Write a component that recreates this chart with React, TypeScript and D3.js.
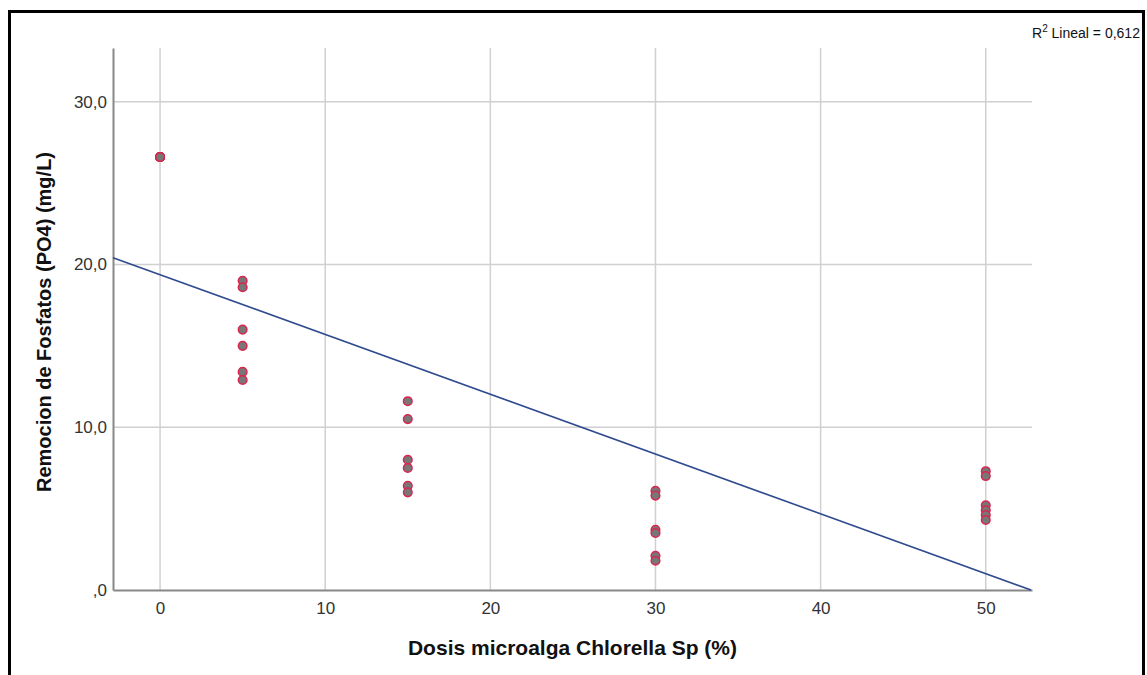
import React, { useEffect, useRef } from "react";
import * as d3 from "d3";

// dosis (%) and phosphate removal (mg/L)
const dosis = [0, 0, 0, 0, 0, 0, 5, 5, 5, 5, 5, 5, 15, 15, 15, 15, 15, 15, 30, 30, 30, 30, 30, 30, 50, 50, 50, 50, 50, 50];
const remocion = [
  26.6, 26.6, 26.6, 26.6, 26.6, 26.6,
  19.0, 18.6, 16.0, 15.0, 13.4, 12.9,
  11.6, 10.5, 8.0, 7.5, 6.4, 6.0,
  6.1, 5.8, 3.7, 3.5, 2.1, 1.8,
  7.3, 7.0, 5.2, 4.9, 4.6, 4.3,
];
const xTicks = [0, 10, 20, 30, 40, 50];
const yTicks = [0, 10, 20, 30];
const r2Lineal = 0.612;

const App = () => {
  const ref = useRef<SVGSVGElement>(null);
  const width = 1147;
  const height = 675;

  useEffect(() => {
    document.body.style.margin = "0";
    const svg = d3.select(ref.current);
    svg.selectAll("*").remove();

    const margin = { top: 48, right: 115, bottom: 85, left: 113 };
    const font = "'Liberation Sans', Arial, sans-serif";

    const x = d3.scaleLinear().domain([-2.85, 52.8]).range([margin.left, width - margin.right]);
    const y = d3.scaleLinear().domain([0, 33.3]).range([height - margin.bottom, margin.top]);

    // outer frame
    svg.append("rect")
      .attr("x", 9.5).attr("y", 11.5)
      .attr("width", 1134).attr("height", 700)
      .attr("fill", "none").attr("stroke", "#000").attr("stroke-width", 3);

    // grid
    svg.append("g")
      .selectAll("line")
      .data(xTicks)
      .join("line")
      .attr("x1", (d) => x(d)).attr("x2", (d) => x(d))
      .attr("y1", y(33.3)).attr("y2", y(0))
      .attr("stroke", "#d0d0d0").attr("stroke-width", 1.5);

    svg.append("g")
      .selectAll("line")
      .data(yTicks.filter((d) => d > 0))
      .join("line")
      .attr("x1", x(-2.85)).attr("x2", x(52.8))
      .attr("y1", (d) => y(d)).attr("y2", (d) => y(d))
      .attr("stroke", "#d0d0d0").attr("stroke-width", 1.5);

    // axes
    const fmt = (v: number) => (v === 0 ? ",0" : v.toFixed(1).replace(".", ","));
    const yAxis = svg.append("g")
      .attr("transform", `translate(${margin.left},0)`)
      .call(d3.axisLeft(y).tickValues(yTicks).tickSize(0).tickPadding(6).tickFormat((d) => fmt(+d)));
    yAxis.select(".domain").attr("stroke", "#888").attr("stroke-width", 2);
    yAxis.selectAll("text").style("font-family", font).style("font-size", "17px").attr("fill", "#333");

    const xAxis = svg.append("g")
      .attr("transform", `translate(0,${height - margin.bottom})`)
      .call(d3.axisBottom(x).tickValues(xTicks).tickSize(0).tickPadding(12).tickFormat((d) => `${d}`));
    xAxis.select(".domain").attr("stroke", "#888").attr("stroke-width", 2);
    xAxis.selectAll("text").style("font-family", font).style("font-size", "17px").attr("fill", "#333");

    // fit line (least squares)
    const mx = d3.mean(dosis)!;
    const my = d3.mean(remocion)!;
    const sxy = d3.sum(dosis, (d, i) => (d - mx) * (remocion[i] - my));
    const sxx = d3.sum(dosis, (d) => (d - mx) * (d - mx));
    const slope = sxy / sxx;
    const intercept = my - slope * mx;
    const x0 = -2.85;
    const x1 = Math.min(52.8, -intercept / slope);

    svg.append("line")
      .attr("x1", x(x0)).attr("y1", y(intercept + slope * x0))
      .attr("x2", x(x1)).attr("y2", y(intercept + slope * x1))
      .attr("stroke", "#2f4a8e").attr("stroke-width", 1.6);

    // points
    svg.append("g")
      .selectAll("circle")
      .data(dosis)
      .join("circle")
      .attr("cx", (d) => x(d))
      .attr("cy", (d, i) => y(remocion[i]))
      .attr("r", 4.3)
      .attr("fill", "#777")
      .attr("stroke", "#d8264f")
      .attr("stroke-width", 1.5);

    // titles
    svg.append("text")
      .attr("x", (margin.left + width - margin.right) / 2)
      .attr("y", 655)
      .attr("text-anchor", "middle")
      .style("font-family", font).style("font-size", "21px").style("font-weight", "bold")
      .attr("fill", "#111")
      .text("Dosis microalga Chlorella Sp (%)");

    svg.append("text")
      .attr("transform", `translate(51,${(margin.top + height - margin.bottom) / 2 + 3}) rotate(-90)`)
      .attr("text-anchor", "middle")
      .style("font-family", font).style("font-size", "20px").style("font-weight", "bold")
      .attr("fill", "#111")
      .text("Remocion de Fosfatos (PO4) (mg/L)");

    const r2 = svg.append("text")
      .attr("x", 1032).attr("y", 38)
      .style("font-family", font).style("font-size", "14px")
      .attr("fill", "#111");
    r2.append("tspan").text("R");
    r2.append("tspan").attr("dy", -6).style("font-size", "10px").text("2");
    r2.append("tspan").attr("dy", 6).text(` Lineal = ${r2Lineal.toFixed(3).replace(".", ",")}`);
  }, []);

  return <svg ref={ref} width={width} height={height} style={{ display: "block" }}></svg>;
};

export default App;
